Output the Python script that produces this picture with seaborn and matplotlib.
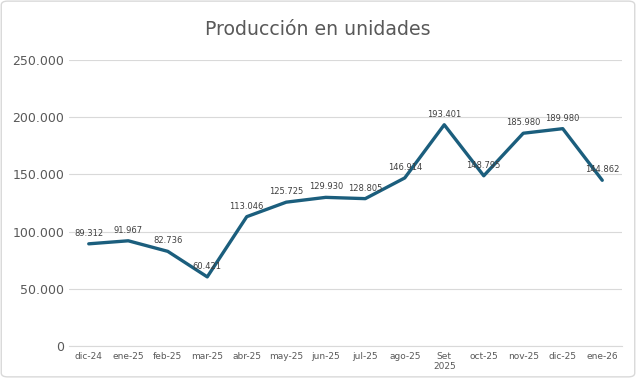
import matplotlib
matplotlib.use("Agg")
import matplotlib.pyplot as plt
import seaborn as sns
import pandas as pd
from matplotlib.patches import FancyBboxPatch

categories = ["dic-24", "ene-25", "feb-25", "mar-25", "abr-25", "may-25", "jun-25",
              "jul-25", "ago-25", "Set\n2025", "oct-25", "nov-25", "dic-25", "ene-26"]
values = [89312, 91967, 82736, 60421, 113046, 125725, 129930,
          128805, 146914, 193401, 148795, 185980, 189980, 144862]
y_ticks = [0, 50000, 100000, 150000, 200000, 250000]
y_tick_labels = ["0", "50.000", "100.000", "150.000", "200.000", "250.000"]

sns.set_theme(style="white")
plt.rcParams['font.family'] = ['DejaVu Sans']

df = pd.DataFrame({"x": range(len(categories)), "v": values})

fig = plt.figure(figsize=(6.36, 3.78), dpi=100)
ax = fig.add_axes([69 / 636, 32 / 378, 553 / 636, 286 / 378])

sns.lineplot(data=df, x="x", y="v", ax=ax, color="#1b5e7d", linewidth=2.4)

for i, v in enumerate(values):
    lbl = f"{v:,}".replace(",", ".")
    ax.annotate(lbl, (i, v), xytext=(0, 7.5), textcoords="offset points",
                ha="center", va="center", fontsize=6, color="#404040")

ax.set_xlim(-0.5, len(categories) - 0.5)
ax.set_ylim(0, 250000)
ax.set_yticks(y_ticks)
ax.set_yticklabels(y_tick_labels)
ax.set_xticks(range(len(categories)))
ax.set_xticklabels(categories)
ax.tick_params(axis="y", labelsize=9, labelcolor="#595959", length=0, pad=3.5)
ax.tick_params(axis="x", labelsize=6.5, labelcolor="#595959", length=0, pad=4)
ax.yaxis.grid(True, color="#d9d9d9", linewidth=0.8)
ax.set_xlabel("")
ax.set_ylabel("")
for s in ["top", "right", "left"]:
    ax.spines[s].set_visible(False)
ax.spines["bottom"].set_color("#d9d9d9")
ax.spines["bottom"].set_linewidth(0.8)

fig.text(0.5, 0.921, "Producción en unidades", ha="center", va="center",
         fontsize=13.6, color="#595959")

border = FancyBboxPatch((0.002, 0.003), 0.996, 0.994, boxstyle="round,pad=0,rounding_size=0.01",
                        transform=fig.transFigure, fill=False, edgecolor="#d9d9d9", linewidth=1)
fig.patches.append(border)

fig.savefig("out.png", dpi=100)
